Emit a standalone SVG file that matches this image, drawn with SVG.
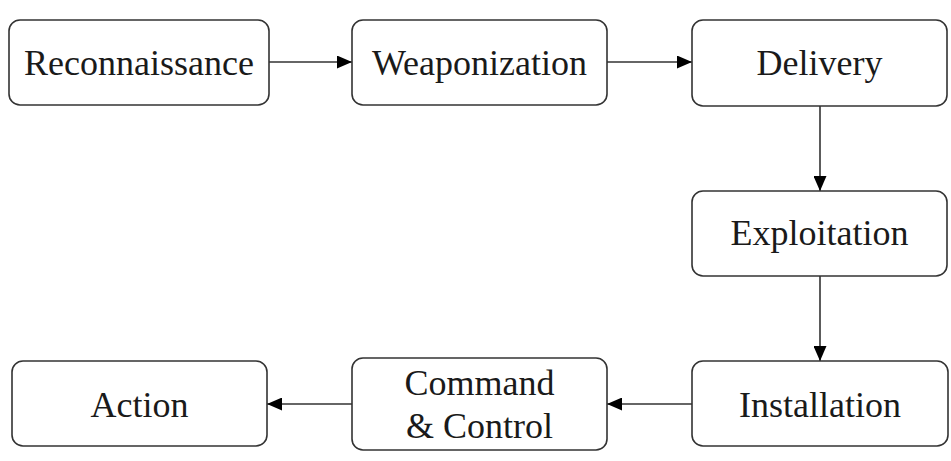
<svg xmlns="http://www.w3.org/2000/svg" width="951" height="461" viewBox="0 0 951 461">
<style>
.box{fill:#fff;stroke:#333;stroke-width:1.6}
.lbl{font-size:36px;fill:#1a1a1a;text-anchor:middle}
.edge{stroke:#333;stroke-width:1.6;fill:none}
</style>
<defs>
<marker id="ah" viewBox="0 0 15 13" refX="15" refY="6.5" markerWidth="15" markerHeight="13" markerUnits="userSpaceOnUse" orient="auto">
<path d="M0,0 L15,6.5 L0,13 Z" fill="#000"/>
</marker>
</defs>
<rect width="951" height="461" fill="#fff"/>
<g id="connectors">
<line class="edge" x1="269" y1="62" x2="352" y2="62" marker-end="url(#ah)"/>
<line class="edge" x1="607" y1="62" x2="692" y2="62" marker-end="url(#ah)"/>
<line class="edge" x1="820" y1="106" x2="820" y2="191" marker-end="url(#ah)"/>
<line class="edge" x1="820" y1="276" x2="820" y2="361" marker-end="url(#ah)"/>
<line class="edge" x1="692" y1="404" x2="607" y2="404" marker-end="url(#ah)"/>
<line class="edge" x1="352" y1="404" x2="267" y2="404" marker-end="url(#ah)"/>
</g>
<g font-family="'Liberation Serif', 'Times New Roman', 'DejaVu Serif', serif">
<g id="reconnaissance">
<rect class="box" x="9" y="20" width="260" height="85" rx="11"/>
<text class="lbl" x="139" y="75">Reconnaissance</text>
</g>
<g id="weaponization">
<rect class="box" x="352" y="20" width="255" height="85" rx="11"/>
<text class="lbl" x="479.5" y="75">Weaponization</text>
</g>
<g id="delivery">
<rect class="box" x="692" y="20" width="255" height="86" rx="11"/>
<text class="lbl" x="819.5" y="75">Delivery</text>
</g>
<g id="exploitation">
<rect class="box" x="692" y="191" width="255" height="85" rx="11"/>
<text class="lbl" x="819.5" y="245">Exploitation</text>
</g>
<g id="installation">
<rect class="box" x="692" y="361" width="256" height="85" rx="11"/>
<text class="lbl" x="820" y="417">Installation</text>
</g>
<g id="command-control">
<rect class="box" x="352" y="358" width="255" height="92" rx="11"/>
<text class="lbl" x="479.5" y="395">Command</text>
<text class="lbl" x="479.5" y="438">&amp; Control</text>
</g>
<g id="action">
<rect class="box" x="12" y="361" width="255" height="85" rx="11"/>
<text class="lbl" x="139.5" y="417">Action</text>
</g>
</g>
</svg>
